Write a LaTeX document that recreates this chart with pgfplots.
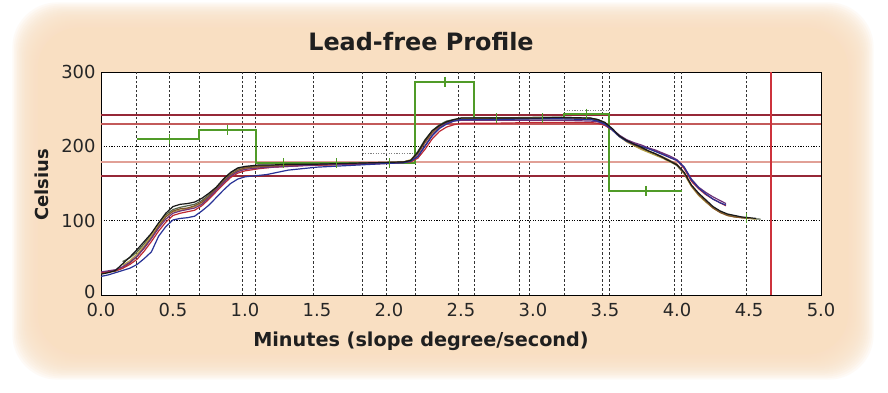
\documentclass[border=0pt]{standalone}
\usepackage{fontspec}
\setmainfont{DejaVu Sans}
\usepackage{pgfplots}
\pgfplotsset{compat=1.18}
\definecolor{peach}{RGB}{249,223,194}
\definecolor{stepgreen}{RGB}{80,155,40}
\definecolor{darkred}{RGB}{150,40,55}
\definecolor{midred}{RGB}{195,90,90}
\definecolor{pinkred}{RGB}{225,160,150}
\definecolor{vred}{RGB}{205,50,60}
\definecolor{cblack}{RGB}{25,25,25}
\definecolor{cblue}{RGB}{40,50,150}
\definecolor{cred}{RGB}{190,40,50}
\definecolor{cpurple}{RGB}{110,50,120}
\definecolor{cbrown}{RGB}{130,85,45}
\definecolor{colive}{RGB}{180,160,70}
\definecolor{cgray}{RGB}{85,100,75}
\begin{document}
\begin{tikzpicture}[x=1bp,y=1bp]
\fill[white] (0,0) rectangle (888,392);
\foreach \k in {1,...,16} {
  \fill[peach, fill opacity=0.14, rounded corners=45bp] ({38-1.6*\k},{38-1.6*\k}) rectangle ({848+1.6*\k},{364+1.6*\k});
}
\fill[peach, rounded corners=40bp] (38,38) rectangle (848,364);
\begin{axis}[
  at={(101bp,97bp)}, anchor=south west,
  scale only axis, width=720bp, height=223bp,
  xmin=0, xmax=5, ymin=0, ymax=300,
  xtick={0,0.5,1,1.5,2,2.5,3,3.5,4,4.5,5},
  xticklabels={0.0,0.5,1.0,1.5,2.0,2.5,3.0,3.5,4.0,4.5,5.0},
  ytick={0,100,200,300},
  yticklabels={\raisebox{6bp}{0},100,200,300},
  major tick length=0pt,
  axis line style={black, line width=1bp},
  axis background/.style={fill=white},
  ticklabel style={font=\fontsize{18}{20}\selectfont, text=black!85},
  xticklabel style={yshift=-5bp},
  yticklabel style={xshift=-2bp},
  /pgf/number format/assume math mode=true,
  extra x ticks={0.248,0.474,0.683,0.981,1.076,1.474,1.817,1.979,2.181,2.481,2.590,2.903,2.974,3.215,3.481,3.528,3.979,4.033,4.484},
  extra x tick labels={},
  extra x tick style={grid=major, major grid style={black!80, dash pattern=on 2.5bp off 2bp, line width=0.9bp}},
  extra y ticks={100,200},
  extra y tick labels={},
  extra y tick style={grid=major, major grid style={black, dash pattern=on 1.2bp off 1.4bp, line width=1.1bp}},
]
% limit lines
\addplot[darkred, line width=1.5bp] coordinates {(0,242) (5,242)};
\addplot[midred, line width=1.5bp] coordinates {(0,230) (5,230)};
\addplot[pinkred, line width=2bp] coordinates {(0,179) (5,179)};
\addplot[darkred, line width=1.5bp] coordinates {(0,160) (5,160)};
\addplot[vred, line width=1.4bp] coordinates {(4.653,0) (4.653,300)};
% faint dotted segments
\addplot[black!50, dash pattern=on 1.2bp off 1.4bp, line width=0.9bp] coordinates {(1.817,191) (2.181,191)};
\addplot[black!50, dash pattern=on 1.2bp off 1.4bp, line width=0.9bp] coordinates {(3.215,248) (3.528,248)};
% slope step line
\addplot[stepgreen, line width=2bp, sharp plot] coordinates {
(0.248,210.5) (0.683,210.5) (0.683,222.5) (1.076,222.5) (1.076,177) (2.181,177)
(2.181,287) (2.590,287) (2.590,238) (3.215,238) (3.215,244) (3.528,244)
(3.528,140) (4.033,140)};
% profiles
\addplot[cgray, line width=1.2bp] coordinates {
(0.15,45) (0.2,50) (0.25,58) (0.3,69) (0.35,82) (0.4,96) (0.45,108) (0.5,115) (0.55,118) (0.6,120) (0.65,122) (0.7,127) (0.75,135) (0.8,144) (0.85,155) (0.9,164) (0.95,170) (1.0,172) (1.1,174) (1.3,175) (1.5,176) (1.7,177) (1.9,178) (2.1,179) (2.15,181) (2.2,193) (2.25,209) (2.3,221) (2.35,229) (2.4,234) (2.45,236) (2.5,238) (2.7,238) (3.0,239) (3.2,239) (3.4,238) (3.45,236) (3.5,232) (3.55,223) (3.6,214) (3.65,207) (3.7,202) (3.75,197) (3.8,193) (3.85,189) (3.9,185) (3.95,180) (4.0,174) (4.05,163) (4.1,147) (4.15,135) (4.2,126) (4.25,118) (4.3,112) (4.35,108) (4.4,106) (4.45,104) (4.5,103) (4.58,102)};
\addplot[colive, line width=1.2bp] coordinates {
(0.15,40) (0.2,46) (0.25,55) (0.3,66) (0.35,80) (0.4,94) (0.45,106) (0.5,112) (0.55,114) (0.6,116) (0.65,119) (0.7,124) (0.75,132) (0.8,142) (0.85,152) (0.9,161) (0.95,167) (1.0,170) (1.1,172) (1.3,174) (1.5,175) (1.7,176) (1.9,177) (2.1,179) (2.15,182) (2.2,191) (2.25,206) (2.3,219) (2.35,227) (2.4,232) (2.45,235) (2.5,237) (2.7,237) (3.0,238) (3.2,238) (3.4,237) (3.45,235) (3.5,231) (3.55,222) (3.6,213) (3.65,206) (3.7,201) (3.75,196) (3.8,192) (3.85,188) (3.9,184) (3.95,179) (4.0,175) (4.05,163) (4.1,146) (4.15,134) (4.2,125) (4.25,117) (4.3,111) (4.35,107) (4.4,105) (4.45,104) (4.5,103) (4.55,102)};
\addplot[cbrown, line width=1.2bp] coordinates {
(0,29) (0.1,32) (0.15,36) (0.2,43) (0.25,52) (0.3,64) (0.35,77) (0.4,92) (0.45,105) (0.5,113) (0.55,116) (0.6,117) (0.65,120) (0.7,125) (0.75,133) (0.8,143) (0.85,153) (0.9,162) (0.95,168) (1.0,171) (1.1,173) (1.3,174) (1.5,175) (1.7,176) (1.9,177) (2.1,179) (2.15,181) (2.2,190) (2.25,205) (2.3,218) (2.35,227) (2.4,232) (2.45,235) (2.5,236) (2.7,237) (3.0,237) (3.2,237) (3.4,237) (3.45,235) (3.5,231) (3.55,223) (3.6,214) (3.65,207) (3.7,202) (3.75,198) (3.8,194) (3.85,190) (3.9,186) (3.95,181) (4.0,176) (4.05,164) (4.1,147) (4.15,135) (4.2,126) (4.25,117) (4.3,111) (4.35,107) (4.4,105) (4.45,104) (4.5,103)};
\addplot[cred, line width=1.2bp] coordinates {
(0,30) (0.1,33) (0.15,36) (0.2,41) (0.25,48) (0.3,59) (0.35,72) (0.4,86) (0.45,98) (0.5,107) (0.55,110) (0.6,112) (0.65,114) (0.7,120) (0.75,129) (0.8,139) (0.85,149) (0.9,158) (0.95,164) (1.0,167) (1.1,170) (1.2,172) (1.4,174) (1.6,175) (1.8,176) (2.0,177) (2.15,179) (2.2,184) (2.25,196) (2.3,210) (2.35,220) (2.4,226) (2.45,229) (2.5,231) (2.7,231) (3.0,232) (3.2,232) (3.4,232) (3.45,231) (3.5,228) (3.55,222) (3.6,214) (3.65,208) (3.7,204) (3.75,200) (3.8,197) (3.85,194) (3.9,190) (3.95,185) (4.0,181) (4.05,170) (4.1,153) (4.15,143) (4.2,135) (4.25,129) (4.3,124) (4.34,120)};
\addplot[cpurple, line width=1.2bp] coordinates {
(0,31) (0.1,34) (0.15,38) (0.2,44) (0.25,52) (0.3,63) (0.35,76) (0.4,90) (0.45,102) (0.5,110) (0.55,113) (0.6,115) (0.65,117) (0.7,122) (0.75,131) (0.8,141) (0.85,151) (0.9,160) (0.95,166) (1.0,169) (1.1,171) (1.3,173) (1.5,175) (1.7,176) (1.9,177) (2.1,178) (2.15,180) (2.2,187) (2.25,201) (2.3,215) (2.35,225) (2.4,231) (2.45,234) (2.5,235) (2.7,235) (3.0,235) (3.2,235) (3.4,234) (3.45,233) (3.5,229) (3.55,223) (3.6,215) (3.65,209) (3.7,205) (3.75,202) (3.8,198) (3.85,195) (3.9,191) (3.95,187) (4.0,182) (4.05,172) (4.1,156) (4.15,145) (4.2,138) (4.25,132) (4.3,127) (4.34,123)};
\addplot[cblue, line width=1.2bp] coordinates {
(0,25) (0.05,27) (0.1,30) (0.15,33) (0.2,36) (0.25,41) (0.3,49) (0.35,58) (0.4,79) (0.45,92) (0.5,101) (0.55,103) (0.6,104) (0.65,106) (0.7,113) (0.75,121) (0.8,131) (0.85,141) (0.9,150) (0.95,156) (1.0,159) (1.05,160) (1.15,162) (1.3,168) (1.5,172) (1.7,174) (1.9,176) (2.1,178) (2.15,180) (2.2,186) (2.25,200) (2.3,214) (2.35,224) (2.4,230) (2.45,234) (2.5,236) (2.7,236) (3.0,237) (3.2,237) (3.4,236) (3.45,234) (3.5,230) (3.55,222) (3.6,213) (3.65,207) (3.7,203) (3.75,200) (3.8,197) (3.85,193) (3.9,189) (3.95,185) (4.0,181) (4.05,172) (4.1,155) (4.15,144) (4.2,136) (4.25,129) (4.3,124) (4.34,121)};
\addplot[cblack, line width=1.2bp] coordinates {
(0,28) (0.05,30) (0.1,33) (0.15,42) (0.2,51) (0.25,61) (0.3,72) (0.35,83) (0.4,97) (0.45,110) (0.5,119) (0.55,122) (0.6,123) (0.65,125) (0.7,130) (0.75,137) (0.8,145) (0.85,156) (0.9,165) (0.95,171) (1.0,173) (1.1,175) (1.2,175) (1.3,176) (1.5,176) (1.7,177) (1.9,178) (2.1,179) (2.15,181) (2.2,192) (2.25,208) (2.3,221) (2.35,228) (2.4,233) (2.45,236) (2.5,238) (2.7,238) (3.0,238) (3.2,239) (3.4,238) (3.45,236) (3.5,232) (3.55,224) (3.6,214) (3.65,208) (3.7,203) (3.75,199) (3.8,194) (3.85,190) (3.9,185) (3.95,180) (4.0,175) (4.05,165) (4.1,148) (4.15,137) (4.2,128) (4.25,119) (4.3,113) (4.35,109) (4.4,107) (4.45,105) (4.5,104) (4.55,103)};
% slope markers
\addplot[stepgreen, only marks, mark=|, mark size=5bp, mark options={line width=1.5bp}] coordinates {
(0.474,210.5) (0.877,222.5) (1.266,177) (1.637,177) (2.002,177) (2.389,287) (2.748,238) (3.067,238) (3.373,244) (3.785,140) (4.484,103)};
\end{axis}
\node[font=\fontsize{24}{28}\selectfont\bfseries, text=black!88] at (421,350) {Lead-free Profile};
\node[font=\fontsize{19.3}{23}\selectfont\bfseries, text=black!88] at (421,51) {Minutes (slope degree/second)};
\node[font=\fontsize{18}{22}\selectfont\bfseries, text=black!88, rotate=90] at (42,207) {Celsius};
\end{tikzpicture}
\end{document}
